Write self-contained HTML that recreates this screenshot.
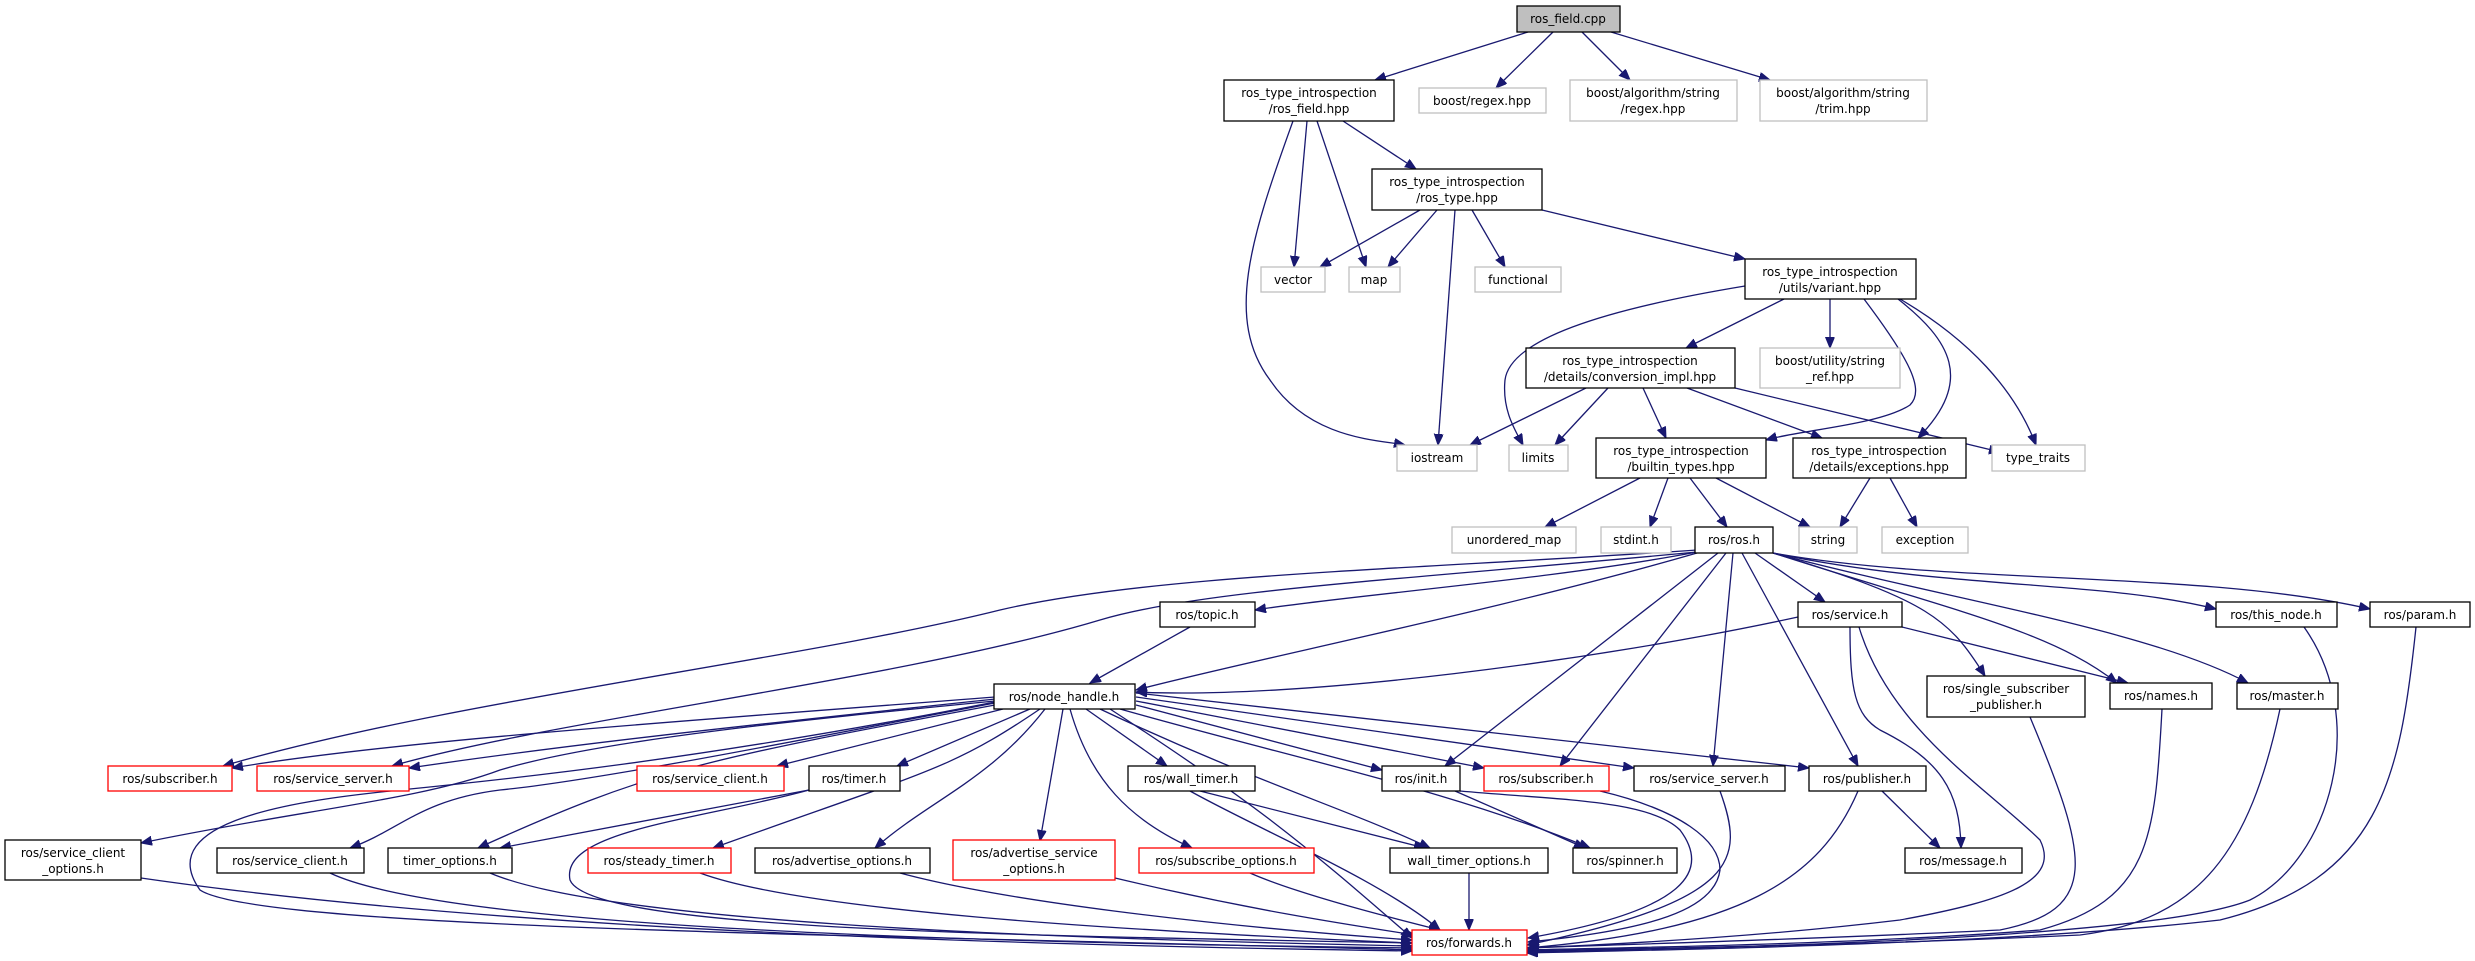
<!DOCTYPE html>
<html><head><meta charset="utf-8"><style>
html,body{margin:0;padding:0;background:#fff;}
svg{display:block;}
text{font-family:"DejaVu Sans","Liberation Sans",sans-serif;font-size:12px;fill:#000;text-anchor:middle;}
.e{fill:none;stroke:#191970;stroke-width:1.3;marker-end:url(#a);}
.n{fill:#fff;stroke:#000;stroke-width:1.3;}
.g{fill:#fff;stroke:#bfbfbf;stroke-width:1.3;}
.r{fill:#fff;stroke:#ff0000;stroke-width:1.3;}
</style></head><body>
<svg width="2475" height="961" viewBox="0 0 2475 961" xmlns="http://www.w3.org/2000/svg">
<defs><marker id="a" markerUnits="userSpaceOnUse" markerWidth="12" markerHeight="10" refX="11" refY="4.5" orient="auto"><path d="M0,0 L11,4.5 L0,9 z" fill="#191970" stroke="#191970"/></marker></defs>

<g>
<path class="e" d="M1528,32 L1375,80"/>
<path class="e" d="M1553,32 L1496,88"/>
<path class="e" d="M1582,32 L1630,80"/>
<path class="e" d="M1611,32 L1770,80"/>
<path class="e" d="M1307,121 L1294,267"/>
<path class="e" d="M1317,121 L1366,267"/>
<path class="e" d="M1343,121 L1416,169"/>
<path class="e" d="M1293,121 C1250,240 1225,320 1270,380 C1310,440 1380,440 1405,445"/>
<path class="e" d="M1420,210 L1320,267"/>
<path class="e" d="M1437,210 L1388,267"/>
<path class="e" d="M1472,210 L1505,267"/>
<path class="e" d="M1455,210 L1438,445"/>
<path class="e" d="M1542,210 L1745,259"/>
<path class="e" d="M1745,286 C1600,310 1510,340 1505,380 C1502,410 1515,430 1523,445"/>
<path class="e" d="M1784,299 L1686,348"/>
<path class="e" d="M1830,299 L1830,348"/>
<path class="e" d="M1864,299 C1910,360 1925,390 1910,405 C1880,425 1800,430 1766,440"/>
<path class="e" d="M1898,299 C1950,340 1975,380 1918,438"/>
<path class="e" d="M1900,299 C1970,340 2015,390 2036,445"/>
<path class="e" d="M1586,388 L1470,445"/>
<path class="e" d="M1608,388 L1555,445"/>
<path class="e" d="M1643,388 L1666,438"/>
<path class="e" d="M1687,388 L1822,438"/>
<path class="e" d="M1735,388 L2000,452"/>
<path class="e" d="M1640,478 L1545,527"/>
<path class="e" d="M1668,478 L1650,527"/>
<path class="e" d="M1690,478 L1727,527"/>
<path class="e" d="M1716,478 L1810,527"/>
<path class="e" d="M1870,478 L1840,527"/>
<path class="e" d="M1890,478 L1917,527"/>
<path class="e" d="M1697,552 C1550,580 1350,595 1255,610"/>
<path class="e" d="M1697,553 C1500,610 1250,660 1136,690"/>
<path class="e" d="M1697,550 C1400,570 1150,575 1000,610 C800,660 450,700 223,766"/>
<path class="e" d="M1697,552 C1400,580 1200,590 1100,620 C900,680 550,720 392,766"/>
<path class="e" d="M1755,553 L1825,602"/>
<path class="e" d="M1773,553 C1950,590 2100,580 2216,609"/>
<path class="e" d="M1773,553 C1950,585 2200,570 2370,609"/>
<path class="e" d="M1773,553 C1930,600 1950,620 1985,676"/>
<path class="e" d="M1773,553 C1950,610 2050,630 2117,683"/>
<path class="e" d="M1773,553 C1950,600 2150,630 2248,683"/>
<path class="e" d="M1718,553 L1445,766"/>
<path class="e" d="M1726,553 L1560,766"/>
<path class="e" d="M1733,553 L1713,766"/>
<path class="e" d="M1742,553 L1858,766"/>
<path class="e" d="M1798,617 C1600,660 1300,700 1136,692"/>
<path class="e" d="M1902,627 L2128,683"/>
<path class="e" d="M1850,627 C1850,690 1855,715 1880,730 C1940,760 1960,790 1961,848"/>
<path class="e" d="M1859,627 C1890,730 1990,790 2040,840 C2060,880 2010,900 1900,920 C1750,938 1600,945 1528,948"/>
<path class="e" d="M1190,627 L1090,683"/>
<path class="e" d="M995,697 C700,720 400,740 232,768"/>
<path class="e" d="M995,699 C800,720 600,740 409,768"/>
<path class="e" d="M995,701 C800,720 600,740 500,770 C420,800 300,810 141,843"/>
<path class="e" d="M1003,709 L777,766"/>
<path class="e" d="M1030,709 L897,766"/>
<path class="e" d="M995,703 C800,740 600,780 500,790 C420,800 400,830 350,848"/>
<path class="e" d="M995,705 C700,760 650,770 478,848"/>
<path class="e" d="M1040,709 C950,770 930,770 713,848"/>
<path class="e" d="M1045,709 C990,780 930,800 875,848"/>
<path class="e" d="M1063,709 L1040,841"/>
<path class="e" d="M1070,709 C1090,780 1130,820 1192,848"/>
<path class="e" d="M1086,709 L1167,766"/>
<path class="e" d="M1100,709 C1250,780 1350,810 1430,848"/>
<path class="e" d="M1136,705 L1382,770"/>
<path class="e" d="M1136,701 L1484,768"/>
<path class="e" d="M1136,697 L1634,768"/>
<path class="e" d="M1136,693 L1809,768"/>
<path class="e" d="M1120,709 C1300,760 1450,790 1590,848"/>
<path class="e" d="M1110,709 C1250,800 1300,840 1412,938"/>
<path class="e" d="M995,702 C700,760 500,780 400,790 C300,800 150,820 200,890 C260,930 900,935 1412,950"/>
<path class="e" d="M809,790 L500,848"/>
<path class="e" d="M809,790 C700,820 560,830 570,880 C590,930 1000,935 1412,943"/>
<path class="e" d="M1200,791 L1425,848"/>
<path class="e" d="M1190,791 C1260,830 1380,880 1440,930"/>
<path class="e" d="M1455,791 L1585,848"/>
<path class="e" d="M1460,791 C1560,800 1650,800 1680,830 C1710,870 1690,910 1528,938"/>
<path class="e" d="M1600,791 C1680,810 1720,840 1720,870 C1715,910 1650,930 1528,942"/>
<path class="e" d="M1720,791 C1745,860 1740,900 1527,945"/>
<path class="e" d="M1858,791 C1820,880 1740,930 1527,948"/>
<path class="e" d="M1882,791 L1940,848"/>
<path class="e" d="M2030,717 C2090,860 2100,910 2000,930 C1800,940 1600,945 1527,948"/>
<path class="e" d="M2162,709 C2155,840 2150,900 2040,930 C1850,945 1600,948 1527,950"/>
<path class="e" d="M2280,709 C2250,850 2200,920 2080,935 C1850,946 1600,949 1527,951"/>
<path class="e" d="M2304,627 C2370,720 2330,860 2250,900 C2150,940 1700,948 1527,952"/>
<path class="e" d="M2416,627 C2400,780 2380,880 2220,920 C2000,945 1650,950 1527,953"/>
<path class="e" d="M141,878 C500,930 1000,945 1412,951"/>
<path class="e" d="M330,873 C450,930 1000,943 1412,948"/>
<path class="e" d="M490,873 C600,920 1000,938 1412,946"/>
<path class="e" d="M700,873 C800,910 1100,930 1412,943"/>
<path class="e" d="M900,873 C1000,900 1200,925 1412,940"/>
<path class="e" d="M1115,878 C1250,910 1350,925 1415,935"/>
<path class="e" d="M1250,873 C1300,895 1400,920 1440,930"/>
<path class="e" d="M1469,873 L1469,930"/>
</g>

<rect x="1517" y="6" width="103" height="26" fill="#bfbfbf" stroke="#000" stroke-width="1.3"/><text x="1568" y="23">ros_field.cpp</text>
<rect class="n" x="1224" y="80" width="170" height="41"/><text x="1309" y="97">ros_type_introspection</text><text x="1309" y="113">/ros_field.hpp</text>
<rect class="g" x="1419" y="88" width="127" height="25"/><text x="1482" y="105">boost/regex.hpp</text>
<rect class="g" x="1570" y="80" width="167" height="41"/><text x="1653" y="97">boost/algorithm/string</text><text x="1653" y="113">/regex.hpp</text>
<rect class="g" x="1760" y="80" width="167" height="41"/><text x="1843" y="97">boost/algorithm/string</text><text x="1843" y="113">/trim.hpp</text>
<rect class="n" x="1372" y="169" width="170" height="41"/><text x="1457" y="186">ros_type_introspection</text><text x="1457" y="202">/ros_type.hpp</text>
<rect class="g" x="1261" y="267" width="64" height="25"/><text x="1293" y="284">vector</text>
<rect class="g" x="1349" y="267" width="51" height="25"/><text x="1374" y="284">map</text>
<rect class="g" x="1475" y="267" width="86" height="25"/><text x="1518" y="284">functional</text>
<rect class="n" x="1745" y="259" width="171" height="40"/><text x="1830" y="276">ros_type_introspection</text><text x="1830" y="292">/utils/variant.hpp</text>
<rect class="n" x="1526" y="348" width="209" height="40"/><text x="1630" y="365">ros_type_introspection</text><text x="1630" y="381">/details/conversion_impl.hpp</text>
<rect class="g" x="1760" y="348" width="140" height="40"/><text x="1830" y="365">boost/utility/string</text><text x="1830" y="381">_ref.hpp</text>
<rect class="g" x="1397" y="445" width="80" height="26"/><text x="1437" y="462">iostream</text>
<rect class="g" x="1509" y="445" width="59" height="26"/><text x="1538" y="462">limits</text>
<rect class="n" x="1596" y="438" width="170" height="40"/><text x="1681" y="455">ros_type_introspection</text><text x="1681" y="471">/builtin_types.hpp</text>
<rect class="n" x="1793" y="438" width="173" height="40"/><text x="1879" y="455">ros_type_introspection</text><text x="1879" y="471">/details/exceptions.hpp</text>
<rect class="g" x="1992" y="445" width="93" height="26"/><text x="2038" y="462">type_traits</text>
<rect class="g" x="1452" y="527" width="124" height="26"/><text x="1514" y="544">unordered_map</text>
<rect class="g" x="1601" y="527" width="70" height="26"/><text x="1636" y="544">stdint.h</text>
<rect class="n" x="1695" y="527" width="78" height="26"/><text x="1734" y="544">ros/ros.h</text>
<rect class="g" x="1799" y="527" width="58" height="26"/><text x="1828" y="544">string</text>
<rect class="g" x="1882" y="527" width="86" height="26"/><text x="1925" y="544">exception</text>
<rect class="n" x="1160" y="602" width="95" height="25"/><text x="1207" y="619">ros/topic.h</text>
<rect class="n" x="1798" y="602" width="104" height="25"/><text x="1850" y="619">ros/service.h</text>
<rect class="n" x="2216" y="602" width="121" height="25"/><text x="2276" y="619">ros/this_node.h</text>
<rect class="n" x="2370" y="602" width="100" height="25"/><text x="2420" y="619">ros/param.h</text>
<rect class="n" x="994" y="684" width="141" height="25"/><text x="1064" y="701">ros/node_handle.h</text>
<rect class="n" x="1927" y="676" width="158" height="41"/><text x="2006" y="693">ros/single_subscriber</text><text x="2006" y="709">_publisher.h</text>
<rect class="n" x="2110" y="683" width="102" height="26"/><text x="2161" y="700">ros/names.h</text>
<rect class="n" x="2237" y="683" width="101" height="26"/><text x="2287" y="700">ros/master.h</text>
<rect class="r" x="108" y="766" width="124" height="25"/><text x="170" y="783">ros/subscriber.h</text>
<rect class="r" x="257" y="766" width="152" height="25"/><text x="333" y="783">ros/service_server.h</text>
<rect class="r" x="637" y="766" width="147" height="25"/><text x="710" y="783">ros/service_client.h</text>
<rect class="n" x="809" y="766" width="91" height="25"/><text x="854" y="783">ros/timer.h</text>
<rect class="n" x="1128" y="766" width="127" height="25"/><text x="1191" y="783">ros/wall_timer.h</text>
<rect class="n" x="1382" y="766" width="78" height="25"/><text x="1421" y="783">ros/init.h</text>
<rect class="r" x="1484" y="766" width="125" height="25"/><text x="1546" y="783">ros/subscriber.h</text>
<rect class="n" x="1634" y="766" width="151" height="25"/><text x="1709" y="783">ros/service_server.h</text>
<rect class="n" x="1809" y="766" width="117" height="25"/><text x="1867" y="783">ros/publisher.h</text>
<rect class="n" x="5" y="840" width="136" height="40"/><text x="73" y="857">ros/service_client</text><text x="73" y="873">_options.h</text>
<rect class="n" x="217" y="848" width="147" height="25"/><text x="290" y="865">ros/service_client.h</text>
<rect class="n" x="388" y="848" width="124" height="25"/><text x="450" y="865">timer_options.h</text>
<rect class="r" x="588" y="848" width="143" height="25"/><text x="659" y="865">ros/steady_timer.h</text>
<rect class="n" x="755" y="848" width="175" height="25"/><text x="842" y="865">ros/advertise_options.h</text>
<rect class="r" x="953" y="840" width="162" height="40"/><text x="1034" y="857">ros/advertise_service</text><text x="1034" y="873">_options.h</text>
<rect class="r" x="1139" y="848" width="175" height="25"/><text x="1226" y="865">ros/subscribe_options.h</text>
<rect class="n" x="1390" y="848" width="158" height="25"/><text x="1469" y="865">wall_timer_options.h</text>
<rect class="n" x="1573" y="848" width="104" height="25"/><text x="1625" y="865">ros/spinner.h</text>
<rect class="n" x="1905" y="848" width="117" height="25"/><text x="1963" y="865">ros/message.h</text>
<rect class="r" x="1412" y="930" width="115" height="25"/><text x="1469" y="947">ros/forwards.h</text>
</svg>
</body></html>
